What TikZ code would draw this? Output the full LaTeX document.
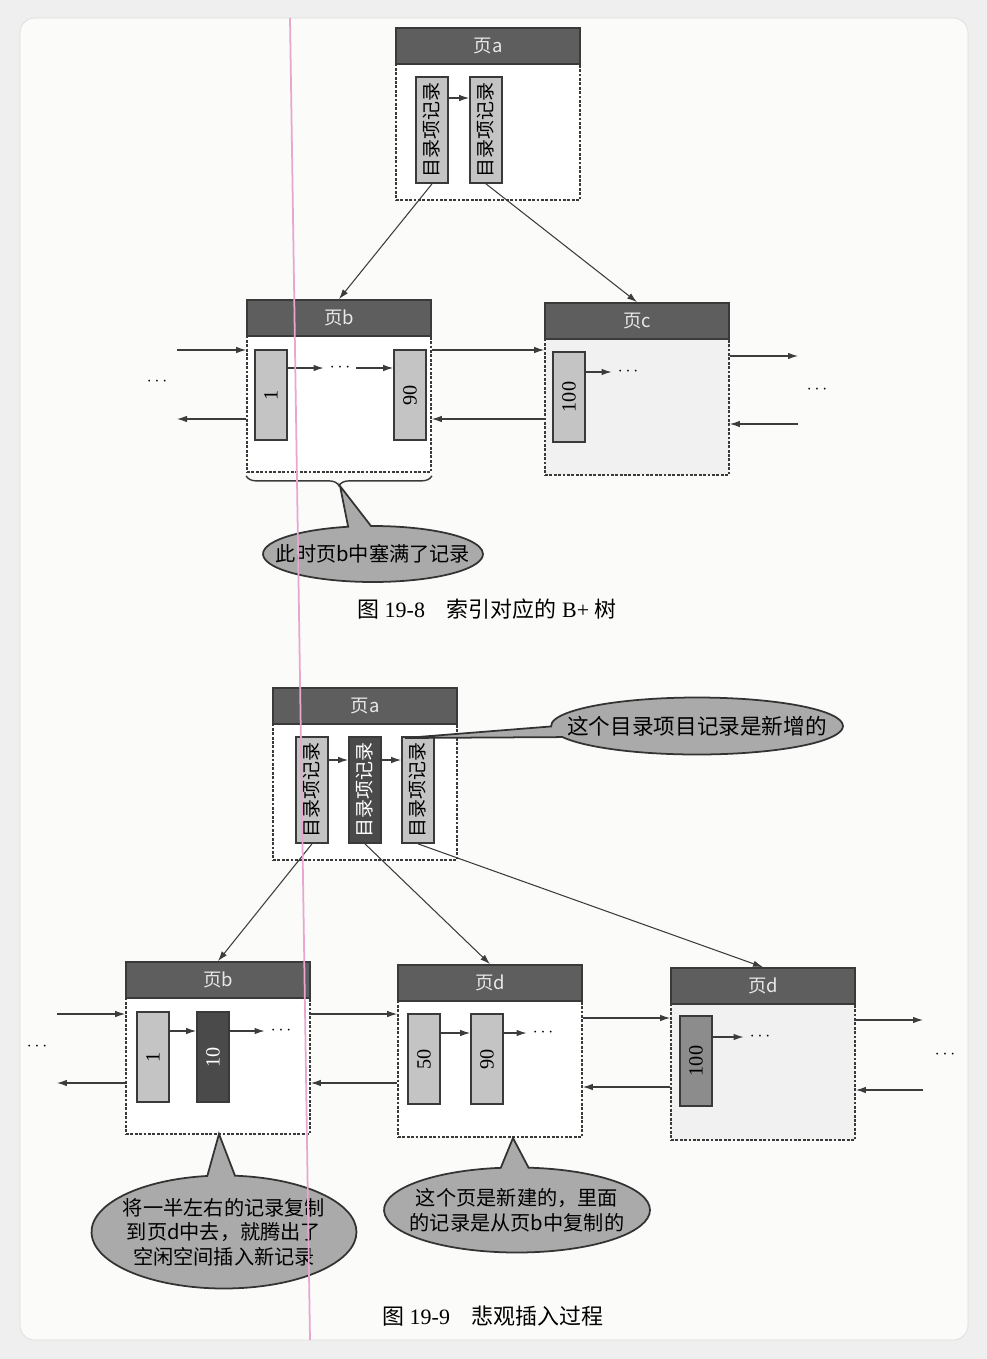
\documentclass[tikz,border=0pt]{standalone}
\usepackage{fontspec}
\setmainfont{Liberation Serif}
\newfontfamily\cjk{Noto Sans CJK SC}
\usepackage{graphicx}
\usetikzlibrary{arrows.meta, positioning, shapes.callouts, decorations.pathreplacing, calc}
\definecolor{bggray}{HTML}{EFEFEF}
\definecolor{cardwhite}{HTML}{FBFBFA}
\definecolor{cardline}{HTML}{DDDDDD}
\definecolor{headgray}{HTML}{5E5E5E}
\definecolor{headtext}{HTML}{E8E8E8}
\definecolor{pageline}{HTML}{3A3A3A}
\definecolor{reclight}{HTML}{C4C4C4}
\definecolor{recmid}{HTML}{8C8C8C}
\definecolor{recdark}{HTML}{4A4A4A}
\definecolor{notegray}{HTML}{AAAAAA}
\definecolor{noteline}{HTML}{333333}
\definecolor{arrgray}{HTML}{3C3C3C}
\definecolor{bodygray}{HTML}{F1F1F1}
\definecolor{scanpink}{HTML}{E9A6CF}
\newcommand{\uptext}[1]{\rotatebox{90}{#1}}
\tikzset{
  pagebody/.style={rectangle, draw=pageline, line width=1pt, dash pattern=on 1.6pt off 0.9pt,
    fill=white, minimum width=3.68cm, minimum height=3.44cm, inner sep=0pt},
  pagehead/.style={rectangle, draw=pageline, line width=0.8pt, fill=headgray, text=headtext,
    minimum width=3.68cm, minimum height=0.72cm, anchor=north, font=\cjk\fontsize{10.5}{10.5}\selectfont},
  rec/.style={rectangle, draw=pageline, line width=1pt, fill=reclight, minimum width=0.64cm,
    minimum height=1.8cm, inner sep=0pt, font=\fontsize{11.5}{11.5}\selectfont},
  idxrec/.style={rec, minimum height=2.12cm, font=\cjk\fontsize{10.8}{10.8}\selectfont},
  darkrec/.style={fill=recdark, text=white},
  note/.style={ellipse callout, draw=noteline, line width=1pt, fill=notegray, align=center,
    inner xsep=-0.7cm, inner ysep=0pt, callout pointer arc=12, font=\cjk\fontsize{11.5}{14}\selectfont},
  caption/.style={font=\fontsize{12.5}{14}\selectfont},
  arr/.style={-{Latex[length=2mm, width=1.3mm]}, line width=0.6pt, arrgray},
}

\begin{document}
\begin{tikzpicture}[x=0.02cm, y=-0.02cm]
  \fill[bggray] (0,0) rectangle (987,1359);
  \useasboundingbox (0,0) rectangle (987,1359);
  \draw[cardline, fill=cardwhite, rounded corners=0.3cm] (20,18) rectangle (968,1340);

  % figure 19-8
  \node[pagebody] (pa) at (488,114) {};
  \node[pagehead] (pah) at (pa.north) {页a};
  \node[idxrec] (ra1) at (432,130) {\uptext{目录项记录}};
  \node[idxrec] (ra2) at (486,130) {\uptext{目录项记录}};
  \draw[arr] ([yshift=0.64cm]ra1.east) -- ([yshift=0.64cm]ra2.west);

  \node[pagebody] (pb) at (339,386) {};
  \node[pagehead] (pbh) at (pb.north) {页b};
  \node[rec] (rb1) at (271,395) {\uptext{1}};
  \node[rec] (rb2) at (410,395) {\uptext{90}};
  \node (bdots) at (340,368) {$\cdots$};
  \draw[arr] (rb1.east |- bdots) -- (bdots.west);
  \draw[arr] (bdots.east) -- (rb2.west |- bdots);

  \node[pagebody, fill=bodygray] (pc) at (637,389) {};
  \node[pagehead] (pch) at (pc.north) {页c};
  \node[rec] (rc1) at (569,397) {\uptext{100}};
  \node (cdots) at (628,372) {$\cdots$};
  \draw[arr] (rc1.east |- cdots) -- (cdots.west);

  \draw[arr] (ra1.south) -- (pbh.north);
  \draw[arr] (ra2.south) -- (pch.north);

  \node (ldots1) at (157,382) {$\cdots$};
  \coordinate (lin1) at (177,350);
  \coordinate (lout1) at (177,419);
  \draw[arr] (lin1) -- (lin1 -| pb.west);
  \draw[arr] (lout1 -| pb.west) -- (lout1);
  \draw[arr] (lin1 -| pb.east) -- (lin1 -| pc.west);
  \draw[arr] (lout1 -| pc.west) -- (lout1 -| pb.east);

  \node (rdots1) at (817,390) {$\cdots$};
  \coordinate (rout1) at (798,356);
  \coordinate (rin1) at (798,424);
  \draw[arr] (rout1 -| pc.east) -- (rout1);
  \draw[arr] (rin1) -- (rin1 -| pc.east);

  \draw[pageline, line width=0.8pt, decorate, decoration={brace, amplitude=0.2cm}]
    ([yshift=-0.06cm]pb.south east) -- ([yshift=-0.06cm]pb.south west);
  \coordinate (btip) at (340,486);
  \node[note, minimum width=4.4cm, minimum height=1.12cm, callout absolute pointer={(btip)}]
    (full) at (373,554) {此时页b中塞满了记录};

  \node[caption] (cap1) at (487,609) {{\cjk 图} 19-8\quad{\cjk 索引对应的} B+ {\cjk 树}};

  % figure 19-9
  \node[pagebody] (qa) at (365,774) {};
  \node[pagehead] (qah) at (qa.north) {页a};
  \node[idxrec] (qa1) at (312,790) {\uptext{目录项记录}};
  \node[idxrec, darkrec] (qa2) at (365,790) {\uptext{目录项记录}};
  \node[idxrec] (qa3) at (418,790) {\uptext{目录项记录}};
  \draw[arr] ([yshift=0.6cm]qa1.east) -- ([yshift=0.6cm]qa2.west);
  \draw[arr] ([yshift=0.6cm]qa2.east) -- ([yshift=0.6cm]qa3.west);

  \coordinate (newtip) at (405,738);
  \node[note, minimum width=5.84cm, minimum height=1.14cm, callout absolute pointer={(newtip)},
    callout pointer arc=22, font=\cjk\fontsize{12.3}{14}\selectfont] (added) at (697,726) {这个目录项目记录是新增的};

  \node[pagebody] (qb) at (218,1048) {};
  \node[pagehead] (qbh) at (qb.north) {页b};
  \node[rec] (qb1) at (153,1057) {\uptext{1}};
  \node[rec, darkrec] (qb2) at (213,1057) {\uptext{10}};
  \node (qbdots) at (281,1031) {$\cdots$};
  \draw[arr] (qb1.east |- qbdots) -- (qb2.west |- qbdots);
  \draw[arr] (qb2.east |- qbdots) -- (qbdots.west);

  \node[pagebody] (qd) at (490,1051) {};
  \node[pagehead] (qdh) at (qd.north) {页d};
  \node[rec] (qd1) at (424,1059) {\uptext{50}};
  \node[rec] (qd2) at (487,1059) {\uptext{90}};
  \node (qddots) at (543,1033) {$\cdots$};
  \draw[arr] (qd1.east |- qddots) -- (qd2.west |- qddots);
  \draw[arr] (qd2.east |- qddots) -- (qddots.west);

  \node[pagebody, fill=bodygray] (qe) at (763,1054) {};
  \node[pagehead] (qeh) at (qe.north) {页d};
  \node[rec, fill=recmid] (qe1) at (696,1061) {\uptext{100}};
  \node (qedots) at (760,1037) {$\cdots$};
  \draw[arr] (qe1.east |- qedots) -- (qedots.west);

  \draw[arr] (qa1.south) -- (qbh.north);
  \draw[arr] (qa2.south) -- (qdh.north);
  \draw[arr] (qa3.south) -- (qeh.north);

  \node (ldots2) at (37,1047) {$\cdots$};
  \coordinate (lin2) at (57,1014);
  \coordinate (lout2) at (57,1083);
  \draw[arr] (lin2) -- (lin2 -| qb.west);
  \draw[arr] (lout2 -| qb.west) -- (lout2);
  \draw[arr] (lin2 -| qb.east) -- (lin2 -| qd.west);
  \draw[arr] (lout2 -| qd.west) -- (lout2 -| qb.east);
  \coordinate (de1) at (620,1018);
  \coordinate (de2) at (620,1087);
  \draw[arr] (de1 -| qd.east) -- (de1 -| qe.west);
  \draw[arr] (de2 -| qe.west) -- (de2 -| qd.east);

  \node (rdots2) at (945,1055) {$\cdots$};
  \coordinate (rout2) at (923,1020);
  \coordinate (rin2) at (923,1090);
  \draw[arr] (rout2 -| qe.east) -- (rout2);
  \draw[arr] (rin2) -- (rin2 -| qe.east);

  \coordinate (copytip) at (219,1134);
  \node[note, minimum width=5.3cm, minimum height=2.26cm, callout absolute pointer={(copytip)}]
    (copy) at (224,1232) {将一半左右的记录复制\\到页d中去，就腾出了\\空闲空间插入新记录};
  \coordinate (newpagetip) at (513,1138);
  \node[note, minimum width=5.32cm, minimum height=1.7cm, callout absolute pointer={(newpagetip)}]
    (fresh) at (517,1210) {这个页是新建的，里面\\的记录是从页b中复制的};

  \node[caption] (cap2) at (493,1316) {{\cjk 图} 19-9\quad{\cjk 悲观插入过程}};

  \draw[scanpink, line width=1pt] (290,18) -- (310,1340);
\end{tikzpicture}
\end{document}
